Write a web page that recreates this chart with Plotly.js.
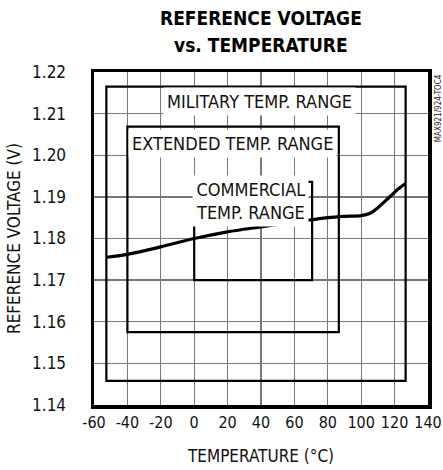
<!DOCTYPE html>
<html>
<head>
<meta charset="utf-8">
<script src="https://cdn.plot.ly/plotly-3.0.1.min.js"></script>
<style>html,body{margin:0;padding:0;background:#fff;}</style>
</head>
<body>
<div id="chart" style="width:443px;height:470px;"></div>
<script>
// Curve data: reference voltage vs temperature
const tempC = [-52.5, -40, -20, 0, 20, 40, 60, 70, 80, 90, 100, 105, 110, 116.5, 122.5, 126.5];
const vref  = [1.1755, 1.1762, 1.1780, 1.1800, 1.1816, 1.1828, 1.1840, 1.1845, 1.1850, 1.1853, 1.1855, 1.1860, 1.1874, 1.1898, 1.1920, 1.1932];

// Temperature range boxes
const rangeNames = ["MILITARY TEMP. RANGE", "EXTENDED TEMP. RANGE", "COMMERCIAL<br>TEMP. RANGE"];
const rangeTLo = [-52.6, -40, 0];
const rangeTHi = [126.6, 86.6, 70.6];
const rangeVLo = [1.1458, 1.1575, 1.1700];
const rangeVHi = [1.2165, 1.2069, 1.1936];
const labelT = [39, 23, 34];
const labelV = [1.2129, 1.2029, 1.1890];

const titleLines = ["REFERENCE VOLTAGE", "vs. TEMPERATURE"];
const xTickVals = [-60, -40, -20, 0, 20, 40, 60, 80, 100, 120, 140];
const xTickText = ["-60", "-40", "-20", "0", "20", "40", "60", "80", "100", "120", "140"];
const yTickVals = [1.14, 1.15, 1.16, 1.17, 1.18, 1.19, 1.20, 1.21, 1.22];
const yTickText = ["1.14", "1.15", "1.16", "1.17", "1.18", "1.19", "1.20", "1.21", "1.22"];

const FONT = "'DejaVu Sans Condensed', 'Liberation Sans', Arial, sans-serif";

const shapes = rangeNames.map((n, i) => ({
  type: 'rect', xref: 'x', yref: 'y',
  x0: rangeTLo[i], x1: rangeTHi[i], y0: rangeVLo[i], y1: rangeVHi[i],
  line: {color: '#000', width: 2.2}, fillcolor: 'rgba(0,0,0,0)', layer: 'above'
}));

const annotations = rangeNames.map((n, i) => ({
  text: n, xref: 'x', yref: 'y', x: labelT[i], y: labelV[i],
  showarrow: false, bgcolor: '#fff', borderpad: 3,
  font: {family: FONT, size: 18, color: '#111'}
}));
annotations.push({
  text: 'MAX921/924-TOC4', xref: 'paper', yref: 'paper', x: 1, xanchor: 'left', xshift: 4,
  y: 0.89, yanchor: 'middle',
  textangle: -90, showarrow: false, font: {family: FONT, size: 8, color: '#222'}
});
// Title lines
titleLines.forEach((t, i) => annotations.push({
  text: '<b>' + t + '</b>', xref: 'paper', yref: 'paper', x: 0.5, xanchor: 'center',
  y: 1, yanchor: 'middle', yshift: [72 - 18, 72 - 45][i],
  showarrow: false, font: {family: FONT, size: 19, color: '#000'}
}));

const trace = {
  x: tempC, y: vref, type: 'scatter', mode: 'lines',
  line: {color: '#000', width: 3.2, shape: 'spline', smoothing: 0.6},
  hoverinfo: 'skip'
};

const layout = {
  width: 443, height: 470,
  margin: {l: 94, r: 15, t: 72, b: 65},
  paper_bgcolor: '#fff', plot_bgcolor: '#fff',
  showlegend: false,
  font: {family: FONT, color: '#111'},
  xaxis: {
    range: [-60, 140], tickvals: xTickVals, ticktext: xTickText, ticks: '', tickangle: 0,
    showgrid: true, gridcolor: '#777', gridwidth: 1.3, zeroline: false,
    showline: true, linecolor: '#000', linewidth: 3.5, mirror: true,
    tickfont: {family: FONT, size: 16, color: '#111'},
    ticklabelstandoff: 0,
    title: {text: 'TEMPERATURE (°C)', font: {family: FONT, size: 17, color: '#111'}, standoff: 20}
  },
  yaxis: {
    range: [1.14, 1.22], tickvals: yTickVals, ticktext: yTickText, ticks: '',
    showgrid: true, gridcolor: '#777', gridwidth: 1.3, zeroline: false,
    showline: true, linecolor: '#000', linewidth: 3.5, mirror: true,
    tickfont: {family: FONT, size: 17, color: '#111'},
    ticklabelstandoff: 21,
    title: {text: 'REFERENCE VOLTAGE (V)', font: {family: FONT, size: 17, color: '#111'}, standoff: 8}
  },
  shapes: shapes,
  annotations: annotations
};

Plotly.newPlot('chart', [trace], layout, {displayModeBar: false, staticPlot: true});
</script>
</body>
</html>
